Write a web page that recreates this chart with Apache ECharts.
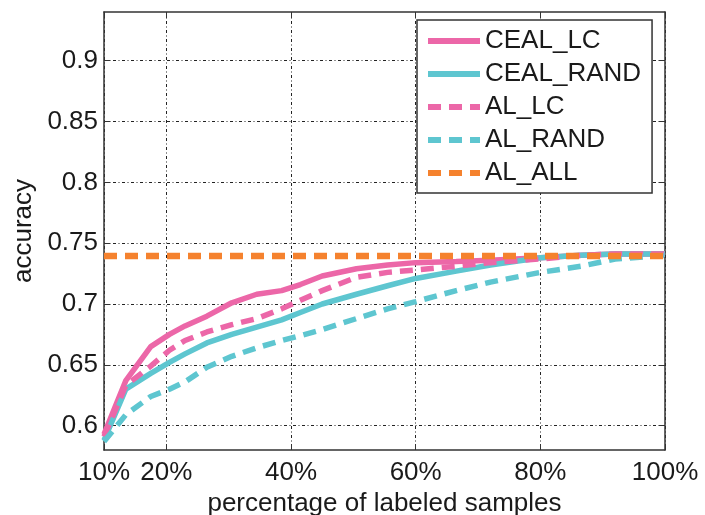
<!DOCTYPE html>
<html>
<head>
<meta charset="utf-8">
<script src="https://cdn.jsdelivr.net/npm/echarts@6/dist/echarts.min.js"></script>
<style>
  html, body { margin: 0; padding: 0; background: #fff; }
  #chart { width: 705px; height: 515px; }
</style>
</head>
<body>
<div id="chart"></div>
<script>
// percentage of labeled samples (x positions of the curve points)
const percent = [10, 13.5, 17.5, 20.5, 23, 26.5, 30.5, 34.5, 38.5, 41.5, 45, 50.5, 55.5, 60, 66.5, 72, 80, 86.5, 92, 100];
const cealLC = [0.593, 0.637, 0.665, 0.675, 0.682, 0.690, 0.701, 0.708, 0.711, 0.716, 0.723, 0.729, 0.732, 0.734, 0.735, 0.736, 0.738, 0.740, 0.741, 0.741];
const cealRand = [0.588, 0.630, 0.643, 0.652, 0.659, 0.668, 0.675, 0.681, 0.687, 0.693, 0.700, 0.708, 0.715, 0.721, 0.727, 0.732, 0.738, 0.740, 0.741, 0.741];
const alLC = [0.591, 0.633, 0.649, 0.662, 0.670, 0.677, 0.683, 0.688, 0.696, 0.703, 0.711, 0.722, 0.726, 0.728, 0.731, 0.734, 0.737, 0.740, 0.741, 0.741];
const alRand = [0.587, 0.609, 0.624, 0.630, 0.636, 0.648, 0.657, 0.664, 0.670, 0.674, 0.679, 0.688, 0.696, 0.702, 0.711, 0.718, 0.726, 0.731, 0.737, 0.740];
const allX = [10, 100];
const alAll = [0.7395, 0.7395];

const xTicks = [10, 20, 40, 60, 80, 100];
const yTicks = [0.6, 0.65, 0.7, 0.75, 0.8, 0.85, 0.9];

const PINK = "#ec67a8";
const CYAN = "#5ec6d0";
const ORANGE = "#f5822e";
const FONT = "Liberation Sans";

const pairs = (xs, ys) => xs.map((x, i) => [x, ys[i]]);

const gridLine = {
  show: true,
  lineStyle: { color: "#222", width: 1, type: [3, 2.5, 1, 2.5] },
};

function lineSeries(name, xs, ys, color, dashed, width) {
  return {
    name: name,
    type: "line",
    data: pairs(xs, ys),
    symbol: "none",
    silent: true,
    lineStyle: {
      color: color,
      width: width,
      type: dashed ? [13, 8] : "solid",
    },
    itemStyle: { color: color },
  };
}

const chart = echarts.init(document.getElementById("chart"));
chart.setOption({
  animation: false,
  textStyle: { fontFamily: FONT },
  grid: {
    left: 104,
    right: 40,
    top: 12,
    bottom: 65,
    outerBoundsMode: "none",
  },
  legend: {
    orient: "vertical",
    left: 417,
    top: 20,
    padding: [8, 11, 7, 8],
    backgroundColor: "#fff",
    borderColor: "#333",
    borderWidth: 1.5,
    itemWidth: 52,
    itemHeight: 14,
    itemGap: 7,
    itemStyle: { opacity: 0 },
    lineStyle: { width: 6 },
    textStyle: { fontFamily: FONT, fontSize: 26, color: "#1a1a1a", lineHeight: 26 },
    data: ["CEAL_LC", "CEAL_RAND", "AL_LC", "AL_RAND", "AL_ALL"],
  },
  xAxis: [
    {
      type: "value",
      min: 10,
      max: 100,
      name: "percentage of labeled samples",
      nameLocation: "middle",
      nameGap: 31,
      nameTextStyle: { fontFamily: FONT, fontSize: 26, color: "#1a1a1a" },
      axisLine: { show: true, lineStyle: { color: "#333", width: 1.5 } },
      axisTick: { show: true, inside: true, length: 6, customValues: xTicks, lineStyle: { color: "#333" } },
      axisLabel: {
        customValues: xTicks,
        formatter: (v) => v + "%",
        fontFamily: FONT,
        fontSize: 26,
        color: "#1a1a1a",
        margin: 10,
      },
      splitLine: gridLine,
    },
    {
      type: "value",
      position: "top",
      min: 10,
      max: 100,
      axisLine: { show: true, lineStyle: { color: "#333", width: 1.5 } },
      axisTick: { show: true, inside: true, length: 6, customValues: xTicks, lineStyle: { color: "#333" } },
      axisLabel: { show: false },
      splitLine: { show: false },
    },
  ],
  yAxis: [
    {
      type: "value",
      min: 0.58,
      max: 0.94,
      name: "accuracy",
      nameLocation: "middle",
      nameGap: 66,
      nameTextStyle: { fontFamily: FONT, fontSize: 26, color: "#1a1a1a" },
      axisLine: { show: true, lineStyle: { color: "#333", width: 1.5 } },
      axisTick: { show: true, inside: true, length: 6, customValues: yTicks, lineStyle: { color: "#333" } },
      axisLabel: {
        customValues: yTicks,
        fontFamily: FONT,
        fontSize: 26,
        color: "#1a1a1a",
        margin: 6,
      },
      splitLine: gridLine,
    },
    {
      type: "value",
      position: "right",
      min: 0.58,
      max: 0.94,
      axisLine: { show: true, lineStyle: { color: "#333", width: 1.5 } },
      axisTick: { show: true, inside: true, length: 6, customValues: yTicks, lineStyle: { color: "#333" } },
      axisLabel: { show: false },
      splitLine: { show: false },
    },
  ],
  series: [
    lineSeries("CEAL_LC", percent, cealLC, PINK, false, 5.5),
    lineSeries("CEAL_RAND", percent, cealRand, CYAN, false, 5.5),
    lineSeries("AL_LC", percent, alLC, PINK, true, 5.5),
    lineSeries("AL_RAND", percent, alRand, CYAN, true, 5.5),
    lineSeries("AL_ALL", allX, alAll, ORANGE, true, 6.5),
  ],
});
</script>
</body>
</html>
